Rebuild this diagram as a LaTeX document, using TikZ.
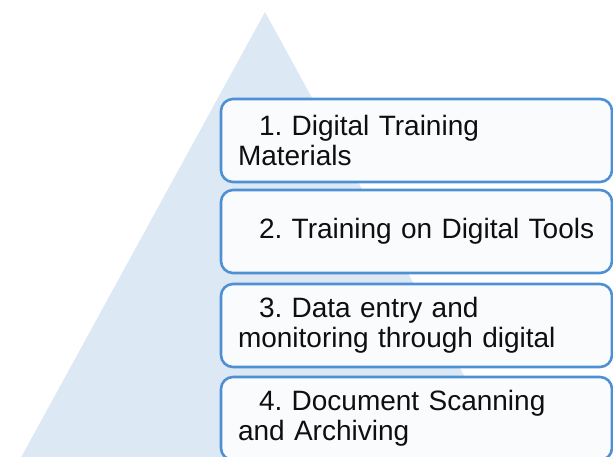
\documentclass[tikz,border=0pt]{standalone}
\usepackage{fontspec}
\setmainfont{Liberation Sans}
\frenchspacing
\definecolor{pyramidfill}{RGB}{220,232,244}
\definecolor{boxedge}{RGB}{78,144,212}
\definecolor{boxfill}{RGB}{250,251,253}
\definecolor{labeltext}{RGB}{15,15,15}
\begin{document}
\begin{tikzpicture}[x=1pt,y=-1pt,
  stagebox/.style={draw=boxedge, line width=2.6pt, fill=boxfill,
    rounded corners=12pt, minimum width=391pt, minimum height=83pt,
    inner xsep=17pt, text width=357pt, align=left,
    font=\fontsize{28}{30}\selectfont, text=labeltext}]
  \useasboundingbox (0,0) rectangle (613,457);
  \begin{scope}
    \clip (0,0) rectangle (613,457);
    % background pyramid
    \fill[pyramidfill] (265,12) -- (18,463) -- (512,463) -- cycle;
    % stages
    \node[stagebox] (s1) at (416.5,140.5) {\hspace*{21pt}1. Digital Training\\Materials};
    \node[stagebox] (s2) at (416.5,231.5) {\hspace*{21pt}2. Training on Digital Tools};
    \node[stagebox] (s3) at (416.5,325.5) {\hspace*{21pt}3. Data entry and\\monitoring through digital};
    \node[stagebox] (s4) at (416.5,418.5) {\hspace*{21pt}4. Document Scanning\\and Archiving};
  \end{scope}
\end{tikzpicture}
\end{document}
